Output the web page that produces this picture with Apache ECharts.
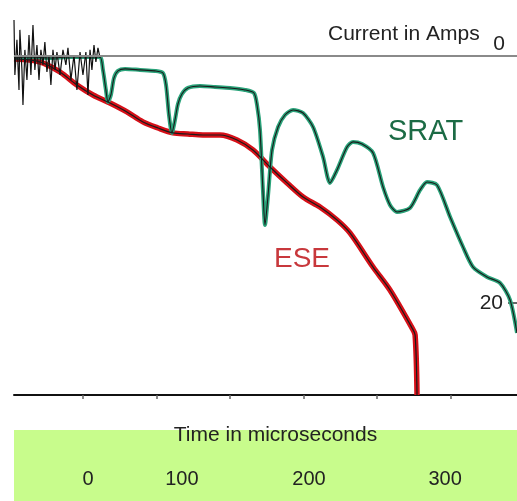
<!DOCTYPE html>
<html>
<head>
<meta charset="utf-8">
<script src="https://cdn.jsdelivr.net/npm/echarts@6/dist/echarts.min.js"></script>
<style>
html,body{margin:0;padding:0;background:#fff;}
#c{width:517px;height:501px;}
</style>
</head>
<body>
<div id="c"></div>
<script>
// Time in microseconds, current in amps
const sratData = [
  [-46.9,0.16],[-36.1,0.08],[-22.4,0.16],[-8.8,0.08],[4.8,0.08],[11.6,0.08],
  [13.6,1.13],[15.6,2.75],[17.0,3.72],[19.0,3.16],[21.1,1.78],[23.8,1.21],
  [28.6,1.05],[38.8,1.13],[49.0,1.21],[54.4,1.38],[56.5,2.35],[58.5,4.78],
  [60.5,6.23],[62.6,5.18],[64.6,3.89],[67.3,3.08],[71.4,2.59],[79.6,2.43],
  [89.8,2.51],[100.0,2.59],[110.2,2.75],[116.3,3.00],[118.4,3.97],[120.4,5.99],
  [122.4,10.85],[123.8,13.68],[125.9,11.26],[128.6,7.61],[132.7,5.75],[137.4,4.78],
  [142.9,4.37],[149.7,4.62],[156.5,5.75],[163.3,8.18],[168.0,10.28],[172.8,9.23],
  [179.6,7.37],[183.7,6.96],[189.8,7.13],[197.3,7.85],[204.1,10.61],[208.8,12.06],
  [213.6,12.63],[222.4,12.31],[229.3,10.85],[234.0,10.20],[240.8,10.45],[249.7,13.04],
  [258.5,15.47],[265.3,17.09],[274.8,17.89],[283.7,18.38],[290.5,19.76],[295.2,22.43]
];
const eseData = [
  [-46.9,0.24],[-36.1,0.32],[-27.2,0.57],[-15.6,1.30],[-4.1,2.35],[6.8,3.16],
  [18.4,3.81],[29.9,4.53],[40.8,5.34],[51.0,5.83],[61.2,6.23],[71.4,6.32],
  [81.6,6.40],[93.2,6.40],[104.8,6.80],[115.6,7.61],[127.2,8.99],[138.8,10.28],
  [149.7,11.42],[161.2,12.23],[172.8,13.28],[181.6,14.33],[197.3,17.09],[208.8,18.95],
  [223.8,22.02],[225.9,22.59],[227.2,27.45]
];
const noiseData = [
  [-46.9,-2.91],[-46.3,1.54],[-44.9,-1.30],[-43.5,2.75],[-42.9,-2.11],[-41.5,1.13],
  [-40.8,3.97],[-39.5,-0.49],[-38.1,1.94],[-36.7,-1.70],[-35.4,1.54],[-34.0,-2.51],
  [-32.7,1.13],[-31.3,-0.89],[-29.9,1.94],[-28.6,-0.49],[-27.2,0.73],[-25.9,-1.13],
  [-24.5,1.30],[-23.1,-0.08],[-21.8,2.35],[-20.4,-0.49],[-19.0,1.13],[-17.7,-0.32],
  [-15.6,1.54],[-13.6,-0.49],[-11.6,0.73],[-10.2,-0.65],[-8.2,1.94],[-6.1,-0.08],
  [-4.1,2.75],[-2.0,-0.32],[0,1.54],[2.0,-0.32],[3.4,3.16],[4.8,-0.49],
  [6.1,1.13],[7.5,-0.89],[8.8,0.49],[10.2,-0.65],[11.6,0.16]
];
const timeTicks = [0,50,100,150,200,250];
const timeLabels = ['0','100','200','300'];
const timeLabelAt = [3.4,67.3,153.7,246.3];
const currentLabels = [0,20];
const currentTicks = [20];

const X_MIN = -46.9, X_MAX = 295.2;
const Y_MIN = -4.53, Y_MAX = 27.45;
const FONT = '"Liberation Sans", Arial, sans-serif';

const chart = echarts.init(document.getElementById('c'), null, {renderer:'canvas'});
chart.setOption({
  animation:false,
  backgroundColor:'#ffffff',
  grid:[
    {left:14, right:0, top:0, height:395, containLabel:false},
    {left:14, right:0, top:430, bottom:0, show:true, backgroundColor:'#c8fc8c', borderWidth:0}
  ],
  xAxis:[
    {type:'value', gridIndex:0, min:X_MIN, max:X_MAX, position:'bottom',
     axisLine:{show:true, onZero:false, lineStyle:{color:'#111', width:2}},
     axisTick:{show:true, customValues:timeTicks, length:4, lineStyle:{color:'#666', width:1.5}},
     axisLabel:{show:false}, splitLine:{show:false},
     name:'Time in microseconds', nameLocation:'middle', nameGap:30,
     nameTextStyle:{fontFamily:FONT, fontSize:21, color:'#222', padding:[0,0,0,20]}},
    {type:'value', gridIndex:1, min:X_MIN, max:X_MAX, position:'bottom',
     axisLine:{show:false, onZero:false}, axisTick:{show:false}, splitLine:{show:false},
     axisLabel:{show:true, inside:true, margin:12, customValues:timeLabelAt,
       fontFamily:FONT, fontSize:20, color:'#222',
       formatter:function(v){
         let best=0, d=1e9;
         timeLabelAt.forEach(function(p,i){ if(Math.abs(p-v)<d){d=Math.abs(p-v);best=i;} });
         return timeLabels[best];
       }}}
  ],
  yAxis:[
    {type:'value', gridIndex:0, min:Y_MIN, max:Y_MAX, inverse:true, position:'right',
     axisLine:{show:false, onZero:false}, splitLine:{show:false},
     axisTick:{show:true, inside:true, customValues:currentTicks, length:9, lineStyle:{color:'#333', width:1.5}},
     axisLabel:{show:true, inside:true, margin:14, customValues:currentLabels,
       fontFamily:FONT, fontSize:21, color:'#222',
       formatter:function(v){ return v===0 ? '{up|0}' : '{n|'+v+'}'; },
       rich:{up:{fontFamily:FONT, fontSize:21, color:'#222', padding:[0,-2,24,0]},
             n:{fontFamily:FONT, fontSize:21, color:'#222'}}}},
    {type:'value', gridIndex:1, show:false}
  ],
  graphic:[
    {type:'text', left:328, top:24, style:{text:'Current in Amps', font:'21px '+FONT, fill:'#222'}},
    {type:'text', left:388, top:117, style:{text:'SRAT', font:'29px '+FONT, fill:'#1c6b45'}},
    {type:'text', left:274, top:245, style:{text:'ESE', font:'28px '+FONT, fill:'#c8383c'}}
  ],
  series:[
    {type:'line', name:'zero', xAxisIndex:0, yAxisIndex:0, data:[], symbol:'none', silent:true,
     markLine:{silent:true, symbol:'none', label:{show:false},
       lineStyle:{color:'#8a8a8a', width:2, type:'solid'}, data:[{yAxis:0}]}},
    {type:'line', name:'ESE', xAxisIndex:0, yAxisIndex:0, data:eseData, symbol:'none', smooth:0.3,
     lineStyle:{color:'#d61018', width:5.5}, z:2},
    {type:'line', name:'SRAT', xAxisIndex:0, yAxisIndex:0, data:sratData, symbol:'none', smooth:0.25,
     lineStyle:{color:'#2aa37a', width:4}, z:3},
    {type:'line', name:'noise', xAxisIndex:0, yAxisIndex:0, data:noiseData, symbol:'none',
     lineStyle:{color:'#111', width:1.2}, z:4},
    {type:'line', name:'ESE trace', xAxisIndex:0, yAxisIndex:0, data:eseData, symbol:'none', smooth:0.3,
     lineStyle:{color:'#1a1a1a', width:1.2}, z:4},
    {type:'line', name:'SRAT trace', xAxisIndex:0, yAxisIndex:0, data:sratData, symbol:'none', smooth:0.25,
     lineStyle:{color:'#1a1a1a', width:1.1}, z:4}
  ]
});
</script>
</body>
</html>
